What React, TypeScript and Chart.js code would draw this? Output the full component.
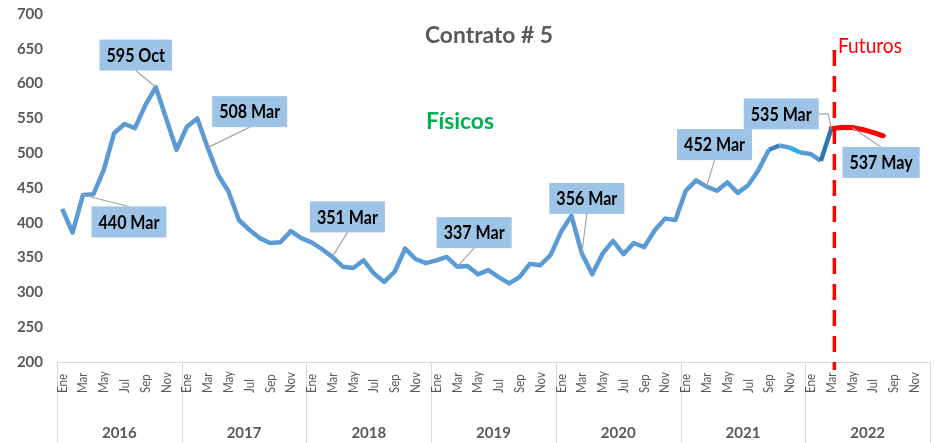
import React, { useEffect, useRef } from 'react';
import { Chart, registerables } from 'chart.js';

Chart.register(...registerables);

const years = ['2016', '2017', '2018', '2019', '2020', '2021', '2022'];
const months = ['Ene', 'Feb', 'Mar', 'Abr', 'May', 'Jun', 'Jul', 'Ago', 'Sep', 'Oct', 'Nov', 'Dic'];

const fis2016 = [420, 386, 440, 441, 476, 529, 542, 536, 569, 595, 550, 505];
const fis2017 = [538, 550, 508, 469, 445, 404, 390, 378, 371, 372, 388, 378];
const fis2018 = [372, 362, 351, 337, 335, 346, 327, 315, 330, 363, 348, 342];
const fis2019 = [346, 351, 337, 338, 326, 332, 322, 313, 322, 341, 339, 354];
const fis2020 = [387, 410, 356, 326, 356, 374, 355, 371, 365, 389, 406, 404];
const fis2021 = [446, 461, 452, 446, 458, 443, 454, 476, 505, 511, 508, 501];
const fis2022 = [499, 489, 535];

// Futuros: Mar..Ago 2022
const futurosStart = 74;
const futurosValues = [535, 537, 537, 534, 530, 525];

const yTicks = { min: 200, max: 700, step: 50 };

const annotations = [
  { series: 0, index: 9, text: '595 Oct', dx: -20, dy: -32, anchor: 'bottom' },
  { series: 0, index: 2, text: '440 Mar', dx: 46, dy: 27, anchor: 'top' },
  { series: 0, index: 14, text: '508 Mar', dx: 42, dy: -36, anchor: 'bottom' },
  { series: 0, index: 26, text: '351 Mar', dx: 15, dy: -40, anchor: 'bottom' },
  { series: 0, index: 38, text: '337 Mar', dx: 17, dy: -34, anchor: 'bottom' },
  { series: 0, index: 50, text: '356 Mar', dx: 5, dy: -55, anchor: 'bottom' },
  { series: 0, index: 62, text: '452 Mar', dx: 8, dy: -42, anchor: 'bottom' },
  { series: 0, index: 74, text: '535 Mar', dx: -50, dy: -15, anchor: 'right' },
  { series: 1, index: 76, text: '537 May', dx: 29, dy: 35, anchor: 'top' },
];

const categories = years.flatMap((y) => months.map((m) => m + ' ' + y));
const fisicosRaw = [...fis2016, ...fis2017, ...fis2018, ...fis2019, ...fis2020, ...fis2021, ...fis2022];
const fisicos: (number | null)[] = categories.map((_, i) => (i < fisicosRaw.length ? fisicosRaw[i] : null));
const futuros: (number | null)[] = categories.map((_, i) =>
  i >= futurosStart && i < futurosStart + futurosValues.length ? futurosValues[i - futurosStart] : null
);

const FONT = 'Lato, "Open Sans", sans-serif';
const GRAY = '#595959';

function drawSqueezed(ctx: CanvasRenderingContext2D, text: string, x: number, y: number, sx: number) {
  ctx.save();
  ctx.translate(x, y);
  ctx.scale(sx, 1);
  ctx.fillText(text, 0, 0);
  ctx.restore();
}

const overlayPlugin = {
  id: 'overlay',
  afterDraw(chart: any) {
    const ctx: CanvasRenderingContext2D = chart.ctx;
    const area = chart.chartArea;
    const xs = chart.scales.x;

    ctx.save();
    // axis line and year separators
    ctx.strokeStyle = '#d9d9d9';
    ctx.lineWidth = 1;
    ctx.beginPath();
    ctx.moveTo(area.left, Math.round(area.bottom) + 0.5);
    ctx.lineTo(area.right, Math.round(area.bottom) + 0.5);
    for (let y = 0; y <= years.length; y++) {
      const px = Math.round(xs.getPixelForValue(y * 12 - 0.5)) + 0.5;
      ctx.moveTo(px, area.bottom);
      ctx.lineTo(px, chart.height);
    }
    ctx.stroke();

    // month labels
    ctx.fillStyle = GRAY;
    ctx.font = `14px ${FONT}`;
    ctx.textAlign = 'left';
    ctx.textBaseline = 'middle';
    const msx = 19 / ctx.measureText('Ene').width;
    categories.forEach((_, i) => {
      if (i % 2 !== 0) return;
      const px = xs.getPixelForValue(i);
      ctx.save();
      ctx.translate(px, area.bottom + 31);
      ctx.rotate(-Math.PI / 2);
      ctx.scale(msx, 1);
      ctx.fillText(months[i % 12], 0, 0);
      ctx.restore();
    });

    // year labels
    ctx.font = `bold 15px ${FONT}`;
    ctx.textAlign = 'center';
    years.forEach((y, k) => {
      const px = xs.getPixelForValue(k * 12 + 5.5);
      ctx.fillText(y, px, area.bottom + 71);
    });

    // dashed futures divider
    const dx = xs.getPixelForValue(futurosStart + 0.3);
    ctx.strokeStyle = '#ff0000';
    ctx.lineWidth = 3.5;
    ctx.setLineDash([16, 10]);
    ctx.beginPath();
    ctx.moveTo(dx, 50);
    ctx.lineTo(dx, area.bottom + 8);
    ctx.stroke();
    ctx.setLineDash([]);

    // titles
    ctx.textBaseline = 'middle';
    ctx.textAlign = 'center';
    ctx.font = `bold 22px ${FONT}`;
    const tsx = 128 / ctx.measureText('Contrato # 5').width;
    ctx.fillStyle = GRAY;
    drawSqueezed(ctx, 'Contrato # 5', 489, 36, tsx);
    ctx.fillStyle = '#00b050';
    drawSqueezed(ctx, 'Físicos', 460, 122, tsx);
    ctx.font = `22px ${FONT}`;
    ctx.fillStyle = '#ff0000';
    const fsx = 64 / ctx.measureText('Futuros').width;
    drawSqueezed(ctx, 'Futuros', 870, 46, fsx);

    // annotations
    ctx.font = `bold 18px ${FONT}`;
    const lsx = 61 / ctx.measureText('440 Mar').width;
    annotations.forEach((a) => {
      const el = chart.getDatasetMeta(a.series).data[a.index];
      if (!el) return;
      const px = el.x;
      const py = el.y;
      const tw = ctx.measureText(a.text).width * lsx;
      const w = tw + 14;
      const h = 31;
      const cx = px + a.dx;
      const cy = py + a.dy;
      // leader
      ctx.strokeStyle = '#a6a6a6';
      ctx.lineWidth = 1.2;
      ctx.beginPath();
      if (a.anchor === 'bottom') {
        ctx.moveTo(cx, cy + h / 2);
        ctx.lineTo(px, py);
      } else if (a.anchor === 'top') {
        ctx.moveTo(cx, cy - h / 2);
        ctx.lineTo(px, py);
      } else {
        ctx.moveTo(cx + w / 2, cy);
        ctx.lineTo(px - 3, cy);
        ctx.lineTo(px, py);
      }
      ctx.stroke();
      ctx.fillStyle = '#9dc3e6';
      ctx.fillRect(cx - w / 2, cy - h / 2, w, h);
      ctx.fillStyle = '#000000';
      ctx.textAlign = 'center';
      drawSqueezed(ctx, a.text, cx, cy + 1, lsx);
    });
    ctx.restore();
  },
};

export default function App() {
  const ref = useRef<HTMLCanvasElement | null>(null);

  useEffect(() => {
    document.body.style.margin = '0';
    const canvas = ref.current;
    if (!canvas) return;
    const chart = new Chart(canvas, {
      type: 'line',
      data: {
        labels: categories,
        datasets: [
          {
            label: 'Físicos',
            data: fisicos,
            borderColor: '#5b9bd5',
            borderWidth: 4.5,
            pointRadius: 0,
            tension: 0,
            borderJoinStyle: 'round',
            segment: {
              borderColor: (c: any) => {
                const i = c.p0DataIndex;
                if (i === 68) return '#3f7fc1';
                if (i === 70) return '#1fb2ee';
                if (i === 73) return '#2e75b6';
                return '#5b9bd5';
              },
            },
          },
          {
            label: 'Futuros',
            data: futuros,
            borderColor: '#ff0000',
            borderWidth: 5,
            pointRadius: 0,
            tension: 0,
            borderJoinStyle: 'round',
            borderCapStyle: 'round',
          },
        ],
      },
      options: {
        responsive: false,
        animation: false,
        layout: { padding: { top: 14, right: 4, bottom: 81, left: 0 } },
        plugins: { legend: { display: false }, tooltip: { enabled: false }, title: { display: false } },
        scales: {
          x: { type: 'category', display: false, offset: true },
          y: {
            min: yTicks.min,
            max: yTicks.max,
            grid: { display: false, drawTicks: false },
            border: { display: false },
            ticks: {
              stepSize: yTicks.step,
              padding: 14,
              color: GRAY,
              font: { family: FONT, size: 15, weight: 'bold' },
            },
            afterFit: (s: any) => {
              s.width = 57;
              s.paddingTop = 0;
              s.paddingBottom = 0;
            },
          },
        },
      },
      plugins: [overlayPlugin],
    });
    return () => chart.destroy();
  }, []);

  return (
    <div style={{ width: 934, height: 443 }}>
      <canvas ref={ref} width={934} height={443} style={{ display: 'block' }} />
    </div>
  );
}
